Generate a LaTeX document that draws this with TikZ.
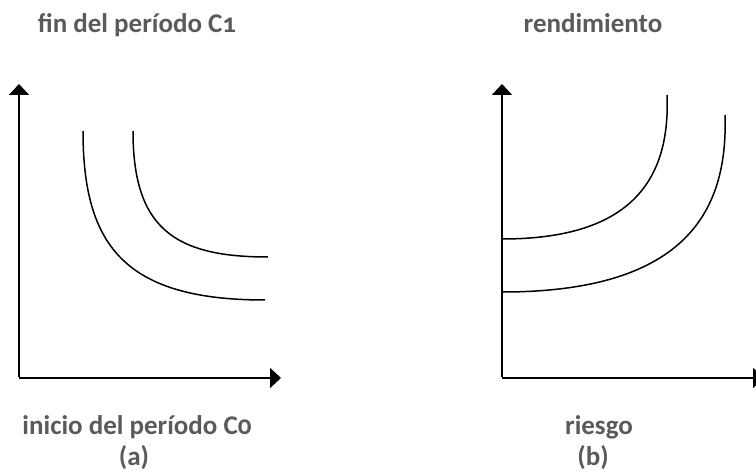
\documentclass[tikz,border=0pt]{standalone}
\usepackage{fontspec}
\setmainfont{Carlito}[Numbers=OldStyle]
\usetikzlibrary{arrows.meta}
\definecolor{labelgray}{HTML}{5A5A5A}
\begin{document}
\begin{tikzpicture}[x=1pt,y=-1pt,
  axis/.style={line width=1.8pt,-{Triangle[length=11pt,width=20pt]}},
  curve/.style={line width=1.5pt},
  lbl/.style={anchor=base,inner sep=0pt,text=labelgray,font=\fontsize{27}{30}\selectfont\bfseries}]
\useasboundingbox (0,0) rectangle (756,473);
% left panel
\coordinate (aO) at (19,378);
\coordinate (aY) at (19,84);
\coordinate (aX) at (281,378);
\draw[axis] ([yshift=1pt]aO) -- (aY);
\draw[axis] (aO) -- (aX);
\coordinate (c1s) at (83,131);
\coordinate (c1e) at (265,300);
\coordinate (c2s) at (133,131);
\coordinate (c2e) at (268,257);
\draw[curve] (c1s) .. controls (83,246) and (125,300) .. (c1e);
\draw[curve] (c2s) .. controls (133,227) and (173,257) .. (c2e);
\node[lbl] (ta) at (137,33) {fin del período C1};
\node[lbl] (xa) at (137,435) {inicio del período C0};
\node[lbl] (pa) at (134,465) {(a)};
% right panel
\coordinate (bO) at (502,378);
\coordinate (bY) at (502,84);
\coordinate (bX) at (764,378);
\draw[axis] ([yshift=1pt]bO) -- (bY);
\draw[axis] (bO) -- (bX);
\coordinate (d1s) at (502,239);
\coordinate (d1e) at (667,95);
\coordinate (d2s) at (502,292);
\coordinate (d2e) at (725,115);
\draw[curve] (d1s) .. controls (620,239) and (671,190) .. (d1e);
\draw[curve] (d2s) .. controls (690,292) and (728,207) .. (d2e);
\node[lbl] (tb) at (593,33) {rendimiento};
\node[lbl] (xb) at (599,435) {riesgo};
\node[lbl] (pb) at (593,465) {(b)};
\end{tikzpicture}
\end{document}
